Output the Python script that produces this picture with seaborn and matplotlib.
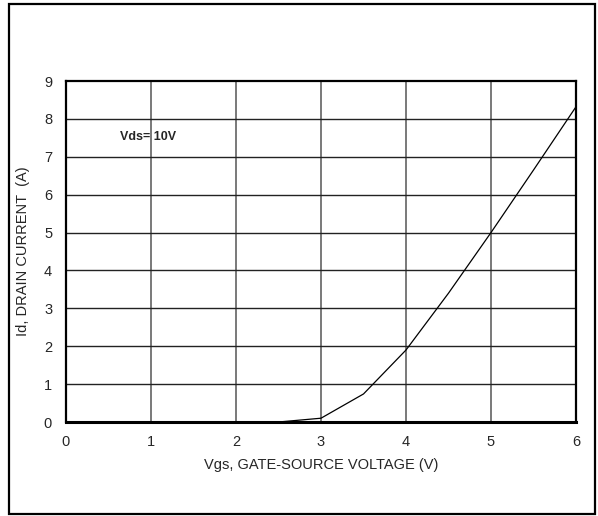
import matplotlib
matplotlib.use('Agg')
import matplotlib.pyplot as plt
import pandas as pd
import seaborn as sns
from matplotlib.patches import Rectangle

# Transfer curve
vgs = [0, 1, 2, 2.5, 3, 3.5, 4, 4.5, 5, 5.5, 6]
id_amps = [0, 0, 0, 0, 0.1, 0.74, 1.9, 3.4, 5.0, 6.65, 8.32]
x_ticks = [0, 1, 2, 3, 4, 5, 6]
y_ticks = [0, 1, 2, 3, 4, 5, 6, 7, 8, 9]

df = pd.DataFrame({'Vgs': vgs, 'Id': id_amps})

sns.set_style('white')
plt.rcParams['font.family'] = ['Liberation Sans', 'DejaVu Sans']

fig = plt.figure(figsize=(5.98, 5.16), dpi=100)
ax = fig.add_axes([66 / 598, 1 - 422 / 516, 510 / 598, 341 / 516])

# outer frame round the whole figure
fig.patches.append(Rectangle((9 / 598, 1 - 514 / 516), 586 / 598, 510 / 516,
                             transform=fig.transFigure, fill=False, ec='black', lw=1.6))

sns.lineplot(data=df, x='Vgs', y='Id', color='black', lw=0.9, ax=ax)

ax.set_xlim(0, 6)
ax.set_ylim(0, 9)
ax.set_xticks(x_ticks)
ax.set_yticks(y_ticks)
for x in x_ticks[1:-1]:
    ax.axvline(x, color='#555555', lw=1.1, zorder=0)
for y in y_ticks[1:-1]:
    ax.axhline(y, color='#222222', lw=1.0, zorder=0)
for s in ax.spines.values():
    s.set_color('black')
    s.set_linewidth(1.6)
ax.spines['bottom'].set_linewidth(2.2)

ax.tick_params(axis='both', length=0, labelsize=10.5)
ax.tick_params(axis='x', pad=9)
ax.tick_params(axis='y', pad=10)
ax.set_xlabel('Vgs, GATE-SOURCE VOLTAGE (V)', fontsize=10.5, labelpad=7)
ax.set_ylabel('Id, DRAIN CURRENT  (A)', fontsize=10.5, labelpad=10)

ax.text(0.64, 7.52, 'Vds= 10V', fontsize=9, fontweight='bold', va='center', ha='left')

fig.savefig('out.png', dpi=100)
